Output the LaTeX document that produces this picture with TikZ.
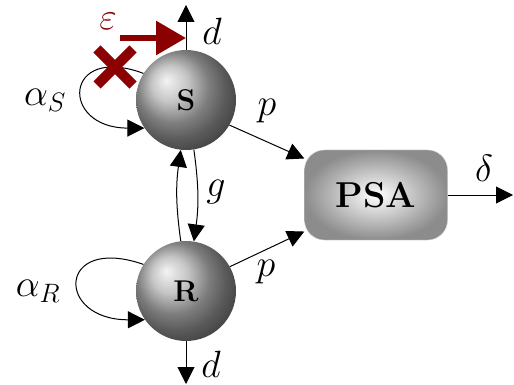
\documentclass[tikz,border=0pt]{standalone}
\usepackage{fix-cm}
\usetikzlibrary{arrows.meta,calc}
\definecolor{dred}{RGB}{139,0,0}
\begin{document}
\begin{tikzpicture}[x=1pt,y=-1pt,
  ball/.style={circle, minimum size=100pt, inner sep=0pt, shading=ball, ball color=gray!60},
  psa/.style={rectangle, rounded corners=20pt, minimum width=143pt, minimum height=90pt, shading=radial, inner color=white, outer color=gray!90, draw=gray!40},
  balltxt/.style={inner sep=0pt, font=\fontsize{30}{34}\selectfont\bfseries},
  psatxt/.style={inner sep=0pt, font=\fontsize{36}{40}\selectfont\bfseries},
  lbl/.style={font=\fontsize{38}{42}\selectfont, inner sep=0pt},
  arr/.style={-{Triangle[length=17pt,width=17pt]}, line width=1pt},
]
\useasboundingbox (0,0) rectangle (514,385);
\node[ball] (S) at (186,100) {};
\node[ball] (R) at (186,291) {};
\node[psa] (P) at (376,195) {};
\node[balltxt] (St) at (S.center) {S};
\node[balltxt] (Rt) at (R.center) {R};
\node[psatxt] (Pt) at (P.center) {PSA};
\coordinate (dtop) at (186,5);
\coordinate (dbot) at (186,384);
\coordinate (dend) at (513,195);
\coordinate (e1) at (120,38);
\coordinate (e2) at (186,38);
% outputs
\draw[arr] (S.north) -- (dtop);
\draw[arr] (R.south) -- (dbot);
\draw[arr] (P.east) -- (dend);
% self loops
\draw[arr] (S.148) .. controls +(-80,-30) and +(-85,0) .. (S.214);
\draw[arr] (R.148) .. controls +(-86,-30) and +(-90,0) .. (R.215);
% g arrows
\draw[arr] (R.96) to[bend left=8] (S.264);
\draw[arr] (S.-81) to[bend left=8] (R.81);
% p arrows
\draw[arr] (S.-30) -- (P.153);
\draw[arr] (R.29) -- (P.207);
% red marks
\draw[dred, line width=6pt, -{Triangle[length=30pt,width=33pt]}] (e1) -- (e2);
\draw[dred, line width=10pt] (97,49) -- (133,85) (97,85) -- (133,49);
% labels
\node[lbl] (ld1) at (212,31) {$d$};
\node[lbl] (ld2) at (211,364) {$d$};
\node[lbl, text=dred] (le) at (108,21) {$\varepsilon$};
\node[lbl] (las) at (45,100) {$\alpha_S$};
\node[lbl] (lar) at (38,291) {$\alpha_R$};
\node[lbl] (lg) at (216,192) {$g$};
\node[lbl] (lp1) at (267,111) {$p$};
\node[lbl] (lp2) at (266,272) {$p$};
\node[lbl] (ldel) at (484,168) {$\delta$};
\end{tikzpicture}
\end{document}
